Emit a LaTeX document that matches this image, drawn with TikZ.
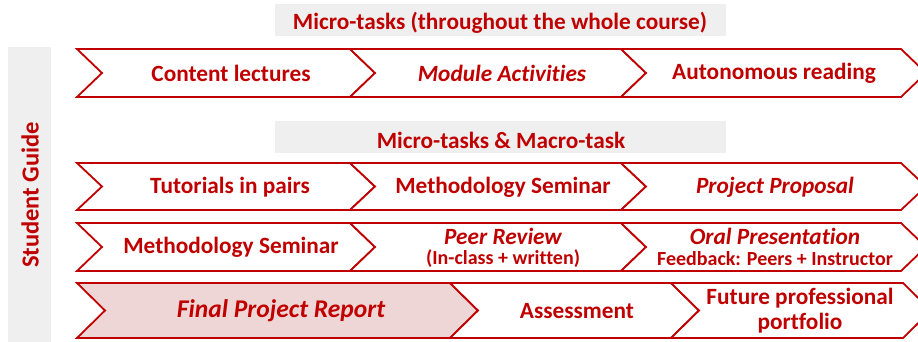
\documentclass[tikz,border=0pt]{standalone}
\usepackage{fontspec}
\setmainfont{Carlito}[Ligatures=NoCommon]
\definecolor{dred}{HTML}{C00000}
\definecolor{gbar}{HTML}{EFEFEF}
\definecolor{pinkfill}{HTML}{EFD6D6}
\newcommand\chv[6][]{%
  \pgfmathsetmacro\ymid{(#4+#5)/2}%
  \draw[chev,#1] (#2,#4) -- (#3,#4) -- (#3+#6,\ymid) -- (#3,#5) -- (#2,#5) -- (#2+#6,\ymid) -- cycle;}
\begin{document}
\begin{tikzpicture}[x=1pt,y=-1pt,
  chev/.style={draw=dred,line width=1.8pt,fill=white,line join=miter},
  lbl/.style={text=dred,font=\fontsize{23.3}{25}\selectfont\bfseries,inner sep=0pt,align=center},
  ilbl/.style={lbl,font=\fontsize{23.3}{25}\selectfont\bfseries\itshape},
  slbl/.style={text=dred,font=\fontsize{20}{22}\selectfont\bfseries,inner sep=0pt}]
\useasboundingbox (0,0) rectangle (918,342);
\clip (0,0) rectangle (918,342);
\fill[white] (0,0) rectangle (918,342);
% grey bars
\fill[gbar] (8,47) rectangle (51,342);
\fill[gbar] (275,4) rectangle (726,36);
\fill[gbar] (275,121) rectangle (726,153);
\node[lbl] (h1) at (500,23) {Micro-tasks (throughout the whole course)};
\node[lbl] (h2) at (501,140) {Micro-tasks \& Macro-task};
\node[lbl,font=\fontsize{24.5}{26}\selectfont\bfseries,rotate=90] (sg) at (30,195) {Student Guide};
% row 1
\chv{77}{350}{49}{97}{25}
\chv{350}{621}{49}{97}{25}
\chv{621}{901}{49}{97}{25}
\node[lbl] (r1a) at (231,73) {Content lectures};
\node[ilbl] (r1b) at (502,73) {Module Activities};
\node[lbl] (r1c) at (774,73) {Autonomous reading};
% row 2
\chv{77}{350}{163}{210}{25}
\chv{350}{621}{163}{210}{25}
\chv{621}{901}{163}{210}{25}
\node[lbl] (r2a) at (230,187) {Tutorials in pairs};
\node[lbl] (r2b) at (503,187) {Methodology Seminar};
\node[ilbl] (r2c) at (775,187) {Project Proposal};
% row 3
\chv{77}{350}{223}{271}{25}
\chv{350}{621}{223}{271}{25}
\chv{621}{901}{223}{271}{25}
\node[lbl] (r3a) at (231,247) {Methodology Seminar};
\node[ilbl] (r3b) at (503,236) {Peer Review};
\node[slbl] (r3bs) at (503,259) {(In-class + written)};
\node[ilbl] (r3c) at (775,236) {Oral Presentation};
\node[slbl] (r3cs) at (775,259) {Feedback: Peers + Instructor};
% row 4
\chv[fill=pinkfill]{77}{450}{283}{338}{28}
\chv{450}{671}{283}{338}{28}
\chv{671}{903}{283}{338}{28}
\node[ilbl,font=\fontsize{25.5}{27}\selectfont\bfseries\itshape] (r4a) at (281,311) {Final Project Report};
\node[lbl] (r4b) at (577,311) {Assessment};
\node[lbl] (r4c) at (800,311) {Future professional\\portfolio};
\end{tikzpicture}
\end{document}
